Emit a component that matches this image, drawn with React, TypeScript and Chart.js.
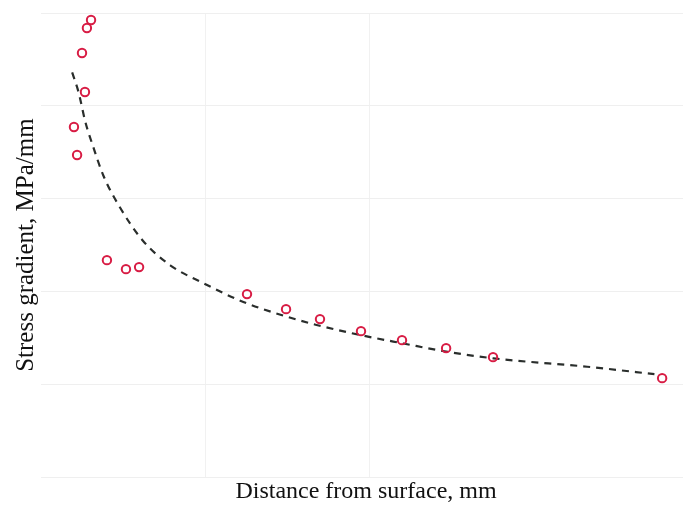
import React, { useEffect, useRef } from "react";
import { Chart, registerables } from "chart.js";

Chart.register(...registerables);

// Measured points (distance from surface, stress gradient) in chart units
const pointX = [0.305, 0.28, 0.25, 0.268, 0.201, 0.22, 0.402, 0.518, 0.598, 1.256, 1.494, 1.701, 1.951, 2.201, 2.47, 2.756, 3.787];
const pointY = [4.925, 4.838, 4.569, 4.149, 3.772, 3.47, 2.338, 2.241, 2.263, 1.972, 1.81, 1.703, 1.573, 1.476, 1.39, 1.293, 1.067];

// Fitted trend curve
const fitX = [0.19, 0.23, 0.27, 0.32, 0.38, 0.48, 0.62, 0.79, 0.99, 1.23, 1.46, 1.68, 1.95, 2.21, 2.48, 2.76, 3.33, 3.74];
const fitY = [4.36, 4.14, 3.83, 3.55, 3.25, 2.91, 2.55, 2.28, 2.09, 1.89, 1.75, 1.64, 1.53, 1.44, 1.35, 1.28, 1.19, 1.11];

const xGridTicks = [1, 2];
const yGridTicks = [0, 1, 2, 3, 4, 5];

const xTitle = "Distance from surface, mm";
const yTitle = "Stress gradient, MPa/mm";

export default function App() {
  const ref = useRef<HTMLCanvasElement | null>(null);

  useEffect(() => {
    if (!ref.current) return;
    const chart = new Chart(ref.current, {
      type: "scatter",
      data: {
        datasets: [
          {
            label: "Measured",
            data: pointX.map((x, i) => ({ x, y: pointY[i] })),
            pointStyle: "circle",
            pointRadius: 4.2,
            pointBorderWidth: 2,
            pointBorderColor: "#d81c44",
            pointBackgroundColor: "rgba(0,0,0,0)",
            showLine: false,
            clip: false as any,
          },
          {
            label: "Fit",
            data: fitX.map((x, i) => ({ x, y: fitY[i] })),
            showLine: true,
            borderColor: "#2a2e2c",
            borderWidth: 2.2,
            borderDash: [7, 6],
            pointRadius: 0,
            cubicInterpolationMode: "monotone",
            fill: false,
          },
        ],
      },
      options: {
        animation: false,
        responsive: false,
        devicePixelRatio: 1,
        layout: { padding: { top: 13, right: 12, bottom: 0, left: 11 } },
        plugins: { legend: { display: false }, tooltip: { enabled: false } },
        scales: {
          x: {
            type: "linear",
            min: 0,
            max: 3.963,
            afterBuildTicks: (axis: any) => {
              axis.ticks = xGridTicks.map((v) => ({ value: v }));
            },
            ticks: { display: false },
            grid: { color: "#f1f1f1", lineWidth: 1, drawTicks: false },
            border: { display: false },
            title: {
              display: true,
              text: xTitle,
              color: "#111",
              font: { family: "'Liberation Serif', 'Times New Roman', serif", size: 24 },
              padding: { top: 0, bottom: 0 },
            },
          },
          y: {
            type: "linear",
            min: 0,
            max: 5,
            afterBuildTicks: (axis: any) => {
              axis.ticks = yGridTicks.map((v) => ({ value: v }));
            },
            ticks: { display: false },
            grid: { color: "#efefef", lineWidth: 1, drawTicks: false },
            border: { display: false },
            title: {
              display: true,
              text: yTitle,
              color: "#111",
              font: { family: "'Liberation Serif', 'Times New Roman', serif", size: 25 },
              padding: { top: 0, bottom: 0 },
            },
          },
        },
      },
    });
    return () => chart.destroy();
  }, []);

  return (
    <div style={{ position: "fixed", left: 0, top: 0, width: 683, height: 506, overflow: "hidden", background: "#fff" }}>
      <canvas ref={ref} width={703} height={506} style={{ display: "block" }} />
    </div>
  );
}
